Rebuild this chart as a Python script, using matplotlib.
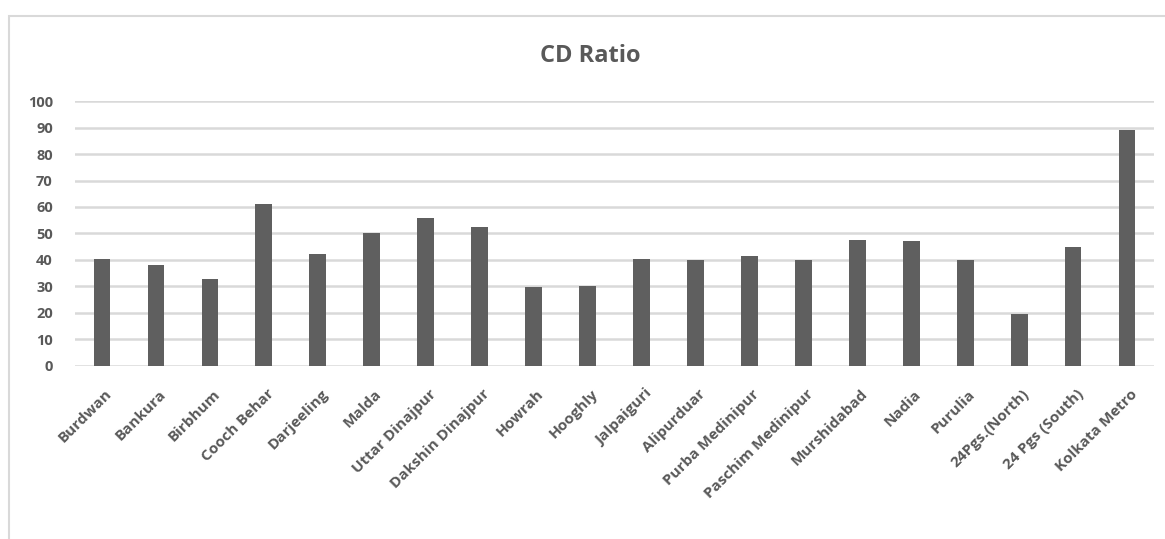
import matplotlib
matplotlib.use("Agg")
import matplotlib.pyplot as plt
import matplotlib.transforms as mtransforms
from matplotlib.patches import Rectangle

# District-wise credit-deposit ratio
districts = [
    "Burdwan", "Bankura", "Birbhum", "Cooch Behar", "Darjeeling", "Malda",
    "Uttar Dinajpur", "Dakshin Dinajpur", "Howrah", "Hooghly", "Jalpaiguri",
    "Alipurduar", "Purba Medinipur", "Paschim Medinipur", "Murshidabad",
    "Nadia", "Purulia", "24Pgs.(North)", "24 Pgs (South)", "Kolkata Metro",
]
cd_ratio = [
    40.4, 38.0, 32.8, 61.1, 42.3, 50.3, 56.0, 52.3, 29.8, 30.1,
    40.5, 40.1, 41.5, 39.9, 47.4, 47.2, 40.1, 19.6, 44.8, 88.9,
]
y_ticks = list(range(0, 101, 10))

text_color = "#595959"
bar_color = "#5f5f5f"
grid_color = "#d9d9d9"

plt.rcParams["font.family"] = ["Open Sans", "DejaVu Sans"]

fig = plt.figure(figsize=(11.65, 5.39), dpi=100)
ax = fig.add_axes([0.0644, 0.3210, 0.9262, 0.4916])

# chart frame
fig.patches.append(Rectangle((9 / 1165, -0.1), 1.2, 1 - 16 / 539 + 0.1,
                             transform=fig.transFigure, fill=False,
                             edgecolor=grid_color, linewidth=1.5))

x = range(len(districts))
ax.bar(x, cd_ratio, width=0.31, color=bar_color, zorder=3)

ax.set_xlim(-0.5, len(districts) - 0.5)
ax.set_ylim(0, 100)
ax.set_yticks(y_ticks)
ax.set_yticklabels([str(v) for v in y_ticks], fontsize=10.5,
                   fontweight="bold", color=text_color)
ax.set_xticks(list(x))
ax.set_xticklabels(districts, rotation=45, ha="right", rotation_mode="anchor",
                   fontsize=11, fontweight="bold", color=text_color)
ax.tick_params(axis="both", length=0)
ax.tick_params(axis="y", pad=16)
ax.tick_params(axis="x", pad=15)

# nudge category labels a little to the right
shift = mtransforms.ScaledTranslation(3 / 100, 0, fig.dpi_scale_trans)
for lbl in ax.get_xticklabels():
    lbl.set_transform(lbl.get_transform() + shift)

ax.grid(axis="y", color=grid_color, linewidth=1.8, zorder=0)
for s in ax.spines.values():
    s.set_visible(False)

fig.text(0.507, 1 - 56 / 539, "CD Ratio", ha="center", va="center",
         fontsize=17, fontweight="bold", color=text_color)

fig.savefig("out.png", dpi=100)
